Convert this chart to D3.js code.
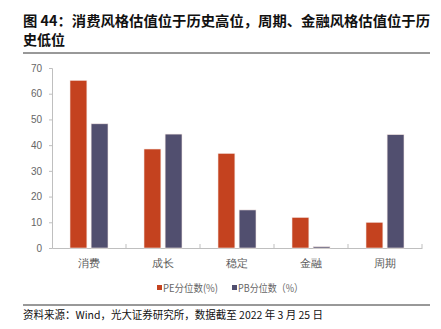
<!DOCTYPE html>
<html><head><meta charset="utf-8">
<script src="https://cdn.jsdelivr.net/npm/d3@7"></script>
<style>body{margin:0;background:#fff;}svg{display:block;font-family:"Noto Sans CJK SC","Noto Sans",sans-serif;}</style>
</head><body>
<svg id="c" width="441" height="329"></svg>
<script>
const categories = ["消费","成长","稳定","金融","周期"];
const peValues = [65.2, 38.5, 36.8, 11.9, 10.0];
const pbValues = [48.3, 44.3, 14.8, 0.5, 44.1];
const seriesNames = ["PE分位数(%)", "PB分位数（%）"];
const yTicks = [0,10,20,30,40,50,60,70];
const titleLines = ["图 44：消费风格估值位于历史高位，周期、金融风格估值位于历", "史低位"];
const sourceText = "资料来源：Wind，光大证券研究所，数据截至 2022 年 3 月 25 日";
const colors = ["#C4421F", "#514F6F"];

const svg = d3.select("#c");
const m = {l:52, r:422, t:68, b:248};

svg.selectAll("text.title").data(titleLines).enter().append("text")
  .attr("x", 23).attr("y", (d,i)=>26 + i*19)
  .attr("font-size", 14).attr("font-weight", "bold").attr("fill", "#111")
  .attr("textLength", (d,i)=> i===0 ? 407 : null)
  .attr("lengthAdjust", "spacingAndGlyphs")
  .text(d=>d);
svg.append("line").attr("x1",23).attr("x2",430).attr("y1",53).attr("y2",53).attr("stroke","#333").attr("stroke-width",1);

const x = d3.scaleBand().domain(categories).range([m.l, m.r]);
const x1 = d3.scaleBand().domain([0,1]).range([18, 56]).paddingInner(0.2);
const y = d3.scaleLinear().domain([0,70]).range([m.b, m.t]);

// y axis
const yAxis = svg.append("g").attr("transform", `translate(${m.l},0)`)
  .call(d3.axisLeft(y).tickValues(yTicks).tickSize(3).tickPadding(7));
yAxis.select(".domain").attr("stroke","#bfbfbf");
yAxis.selectAll(".tick line").attr("stroke","#bfbfbf");
yAxis.selectAll("text").attr("fill","#666").attr("font-size",10).attr("font-family","Liberation Sans, sans-serif");

// x axis
const xAxis = svg.append("g").attr("transform", `translate(0,${m.b})`)
  .call(d3.axisBottom(x).tickSize(0).tickPadding(12));
xAxis.select(".domain").attr("stroke","#bfbfbf");
xAxis.selectAll("text").attr("fill","#595959").attr("font-size",10.5);
const bounds = categories.map(c=>x(c)+x.bandwidth());
xAxis.selectAll("line.bt").data(bounds).enter().append("line").attr("class","bt")
  .attr("x1",d=>d).attr("x2",d=>d).attr("y1",0).attr("y2",-4).attr("stroke","#bfbfbf");

const data = categories.map((c,i)=>({c, v:[peValues[i], pbValues[i]]}));
const g = svg.append("g");
data.forEach(d=>{
  g.selectAll(null).data(d.v).enter().append("rect")
    .attr("x",(v,j)=>x(d.c)+x1(j))
    .attr("width", x1.bandwidth())
    .attr("y", v=>y(v))
    .attr("height", v=>y(0)-y(v))
    .attr("fill",(v,j)=>colors[j])
    .attr("stroke","#f3e6e3").attr("stroke-width",0.6);
});

// legend
const lx = [157, 232];
const lw = [55, 65];
seriesNames.forEach((n,i)=>{
  svg.append("rect").attr("x",lx[i]).attr("y",285).attr("width",5).attr("height",5).attr("fill",colors[i]);
  svg.append("text").attr("x",lx[i]+6).attr("y",291.5).attr("font-size",10.5).attr("fill","#666")
    .attr("textLength", lw[i]).attr("lengthAdjust","spacingAndGlyphs").text(n);
});

svg.append("line").attr("x1",23).attr("x2",430).attr("y1",305).attr("y2",305).attr("stroke","#333").attr("stroke-width",1);
svg.append("text").attr("x",23).attr("y",319).attr("font-size",11).attr("fill","#111")
  .attr("textLength",300).attr("lengthAdjust","spacingAndGlyphs").text(sourceText);
</script>
</body></html>
